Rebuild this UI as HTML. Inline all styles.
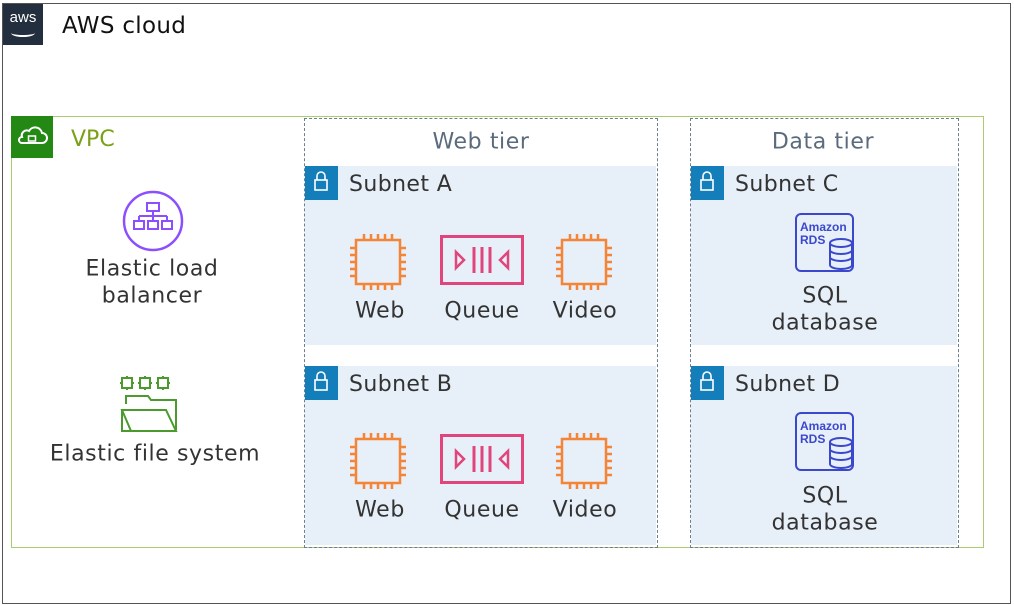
<!DOCTYPE html>
<html><head><meta charset="utf-8"><style>
body{margin:0;width:1014px;height:605px;background:#fff;position:relative;overflow:hidden;font-family:"DejaVu Sans",sans-serif;color:#333}
.a{position:absolute}
.t{position:absolute;font-size:22px;letter-spacing:0.6px;white-space:nowrap;transform:translate(-50%,-50%)}
.sub{position:absolute;background:#e7eff8}
.lk{position:absolute;left:0;top:0;width:33px;height:34px;background:#147eba}
.sl{position:absolute;left:44px;top:6px;font-size:22px;letter-spacing:0.4px}
</style></head><body>
<div class="a" style="left:2px;top:3px;width:1007px;height:599px;border:1px solid #555"></div>
<div class="a" style="left:3px;top:4px;width:40px;height:41px;background:#232f3e;color:#fff;font-size:15px;text-align:center;line-height:28px;font-family:'Liberation Sans',sans-serif">aws<div style="position:absolute;left:8px;top:25px;width:24px;height:6px;border-bottom:2px solid #fff;border-radius:0 0 50% 50%"></div></div>
<div class="a" style="left:62px;top:13px;font-size:23px;color:#111;letter-spacing:0.3px">AWS cloud</div>

<div class="a" style="left:11px;top:116px;width:971px;height:430px;border:1px solid #a9cd6e"></div>
<div class="a" style="left:11px;top:116px;width:42px;height:42px;background:#248814"><svg width="42" height="42"><path d="M11 27 h20 a5 5 0 0 0 0-10 a7 7 0 0 0-13-2 a5 5 0 0 0-7 6 a3 3 0 0 0 0 6z" fill="none" stroke="#fff" stroke-width="2"/><rect x="17.5" y="20" width="7" height="5" fill="none" stroke="#fff" stroke-width="1.5"/></svg></div>
<div class="a" style="left:71px;top:127px;font-size:22px;color:#7aa116">VPC</div>

<div class="a" style="left:304px;top:118px;width:352px;height:428px;border:1px dashed #6c7f91"></div>
<div class="a" style="left:690px;top:118px;width:267px;height:428px;border:1px dashed #6c7f91"></div>
<div class="t" style="left:481px;top:142px;color:#5a6b7d">Web tier</div>
<div class="t" style="left:823px;top:142px;color:#5a6b7d">Data tier</div>

<svg width="0" height="0" style="position:absolute"><defs>
<g id="chip"><rect x="6" y="6" width="44" height="44" fill="none" stroke="#f58536" stroke-width="2.5"/><g stroke="#f58536" stroke-width="2.5"><path d="M14 0v6M21 0v6M28 0v6M35 0v6M42 0v6M14 50v6M21 50v6M28 50v6M35 50v6M42 50v6M0 14h6M0 21h6M0 28h6M0 35h6M0 42h6M50 14h6M50 21h6M50 28h6M50 35h6M50 42h6"/></g></g>
<g id="q"><rect x="1.5" y="1.5" width="81" height="47" fill="none" stroke="#e0457b" stroke-width="3"/><path d="M16 17v16l8-8z M68 17v16l-8-8z" fill="none" stroke="#e0457b" stroke-width="2.5"/><path d="M34 12v26M42 12v26M50 12v26" stroke="#e0457b" stroke-width="3"/></g>
<g id="rds"><rect x="1" y="1" width="57" height="57" rx="5" fill="none" stroke="#3b48cc" stroke-width="2"/><text x="5" y="18" font-size="12" font-weight="bold" fill="#3b48cc" font-family="Liberation Sans">Amazon</text><text x="5" y="31" font-size="12" font-weight="bold" fill="#3b48cc" font-family="Liberation Sans">RDS</text><g fill="#e7eff8" stroke="#3b48cc" stroke-width="2"><path d="M35 30v22a11 4 0 0 0 22 0v-22"/><ellipse cx="46" cy="30" rx="11" ry="4"/><path d="M35 37a11 4 0 0 0 22 0M35 44a11 4 0 0 0 22 0" fill="none"/></g></g>
</defs></svg>

<div class="sub" style="left:305px;top:166px;width:351px;height:179px"><div class="lk"></div><div class="sl">Subnet A</div></div>
<div class="sub" style="left:305px;top:366px;width:351px;height:179px"><div class="lk"></div><div class="sl">Subnet B</div></div>
<div class="sub" style="left:691px;top:166px;width:266px;height:179px"><div class="lk"></div><div class="sl">Subnet C</div></div>
<div class="sub" style="left:691px;top:366px;width:266px;height:179px"><div class="lk"></div><div class="sl">Subnet D</div></div>

<svg class="a" style="left:0;top:0" width="1014" height="605">
<g fill="none" stroke="#fff" stroke-width="1.6">
<rect x="315" y="180" width="12" height="10"/><path d="M317 180v-4a4 4 0 0 1 8 0v4"/>
<rect x="315" y="380" width="12" height="10"/><path d="M317 380v-4a4 4 0 0 1 8 0v4"/>
<rect x="701" y="180" width="12" height="10"/><path d="M703 180v-4a4 4 0 0 1 8 0v4"/>
<rect x="701" y="380" width="12" height="10"/><path d="M703 380v-4a4 4 0 0 1 8 0v4"/>
</g>
<use href="#chip" x="350" y="234"/><use href="#q" x="440" y="235"/><use href="#chip" x="556" y="234"/>
<use href="#chip" x="350" y="433"/><use href="#q" x="440" y="434"/><use href="#chip" x="556" y="433"/>
<use href="#rds" x="795" y="213"/><use href="#rds" x="795" y="412"/>
<circle cx="153" cy="221" r="29" fill="none" stroke="#8c4fff" stroke-width="2.5"/>
<g fill="none" stroke="#8c4fff" stroke-width="2"><rect x="147" y="203" width="12" height="8"/><path d="M153 211v5M139 216h28M139 216v5M153 216v5M167 216v5"/><rect x="134" y="221" width="10" height="8"/><rect x="148" y="221" width="10" height="8"/><rect x="162" y="221" width="10" height="8"/></g>
<g fill="none" stroke="#4a9a2e" stroke-width="2"><rect x="122" y="378" width="10" height="10"/><rect x="140" y="378" width="10" height="10"/><rect x="158" y="378" width="10" height="10"/>
<path d="M120 383h2M132 383h2M138 383h2M150 383h2M156 383h2M168 383h2M127 376v2M127 388v2M145 376v2M145 388v2M163 376v2M163 388v2"/>
<path d="M126 404v-8h22l3 4h25v30"/><path d="M122 410h44l10 21h-45z"/><path d="M122 410v21h9"/></g>
</svg>

<div class="t" style="left:380px;top:311px">Web</div><div class="t" style="left:482px;top:311px">Queue</div><div class="t" style="left:585px;top:311px">Video</div>
<div class="t" style="left:380px;top:510px">Web</div><div class="t" style="left:482px;top:510px">Queue</div><div class="t" style="left:585px;top:510px">Video</div>
<div class="t" style="left:825px;top:296px">SQL</div><div class="t" style="left:825px;top:323px">database</div>
<div class="t" style="left:825px;top:496px">SQL</div><div class="t" style="left:825px;top:523px">database</div>
<div class="t" style="left:152px;top:269px">Elastic load</div><div class="t" style="left:152px;top:296px">balancer</div>
<div class="t" style="left:155px;top:454px">Elastic file system</div>
</body></html>
